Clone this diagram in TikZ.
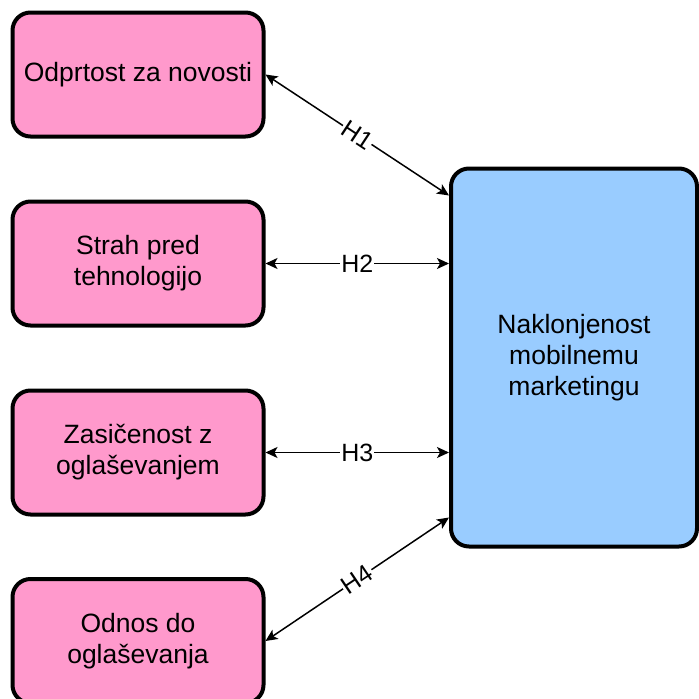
\documentclass[tikz,border=0pt]{standalone}
\usepackage{fontspec}
\setmainfont{Liberation Sans}
\usetikzlibrary{calc,arrows.meta}

\definecolor{factorpink}{HTML}{FF99CC}
\definecolor{targetblue}{HTML}{99CCFF}

\begin{document}
\begin{tikzpicture}[x=1pt, y=-1pt, line cap=round,
	factor/.style={draw=black, line width=4pt, fill=factorpink, rounded corners=18pt,
		minimum width=251pt, minimum height=124pt, inner sep=0pt, align=center,
		font=\fontsize{26.5}{31}\selectfont},
	target/.style={factor, fill=targetblue, minimum width=246pt, minimum height=378pt},
	link/.style={line width=1.5pt, {Stealth[length=12pt,width=11pt,inset=3pt]}-{Stealth[length=12pt,width=11pt,inset=3pt]}},
	hyp/.style={fill=white, inner sep=1pt, font=\fontsize{25}{30}\selectfont}]
		\useasboundingbox (0,0) rectangle (699,699);
		\clip (0,0) rectangle (699,699);
		
		% Boxes
		\node[factor] (odprtost) at (138,74.5) {Odprtost za novosti};
		\node[factor] (strah) at (138,263.5) {Strah pred\\tehnologijo};
		\node[factor] (zasicenost) at (138,452.5) {Zasičenost z\\oglaševanjem};
		\node[factor] (odnos) at (138,641) {Odnos do\\oglaševanja};
		\node[target] (naklonjenost) at (574,357.5) {Naklonjenost\\mobilnemu\\marketingu};
		
		% Coordinates
		\coordinate (h1) at ($(naklonjenost.north west)+(0,29)$);
		\coordinate (h4) at ($(naklonjenost.south west)+(0,-31)$);
		
		% Arrows
		\draw[link] (odprtost.east) -- node[hyp, sloped] {H1} (h1);
		\draw[link] (strah.east) -- node[hyp] {H2} (strah.east -| naklonjenost.west);
		\draw[link] (zasicenost.east) -- node[hyp] {H3} (zasicenost.east -| naklonjenost.west);
		\draw[link] (odnos.east) -- node[hyp, sloped] {H4} (h4);
	\end{tikzpicture}
\end{document}
